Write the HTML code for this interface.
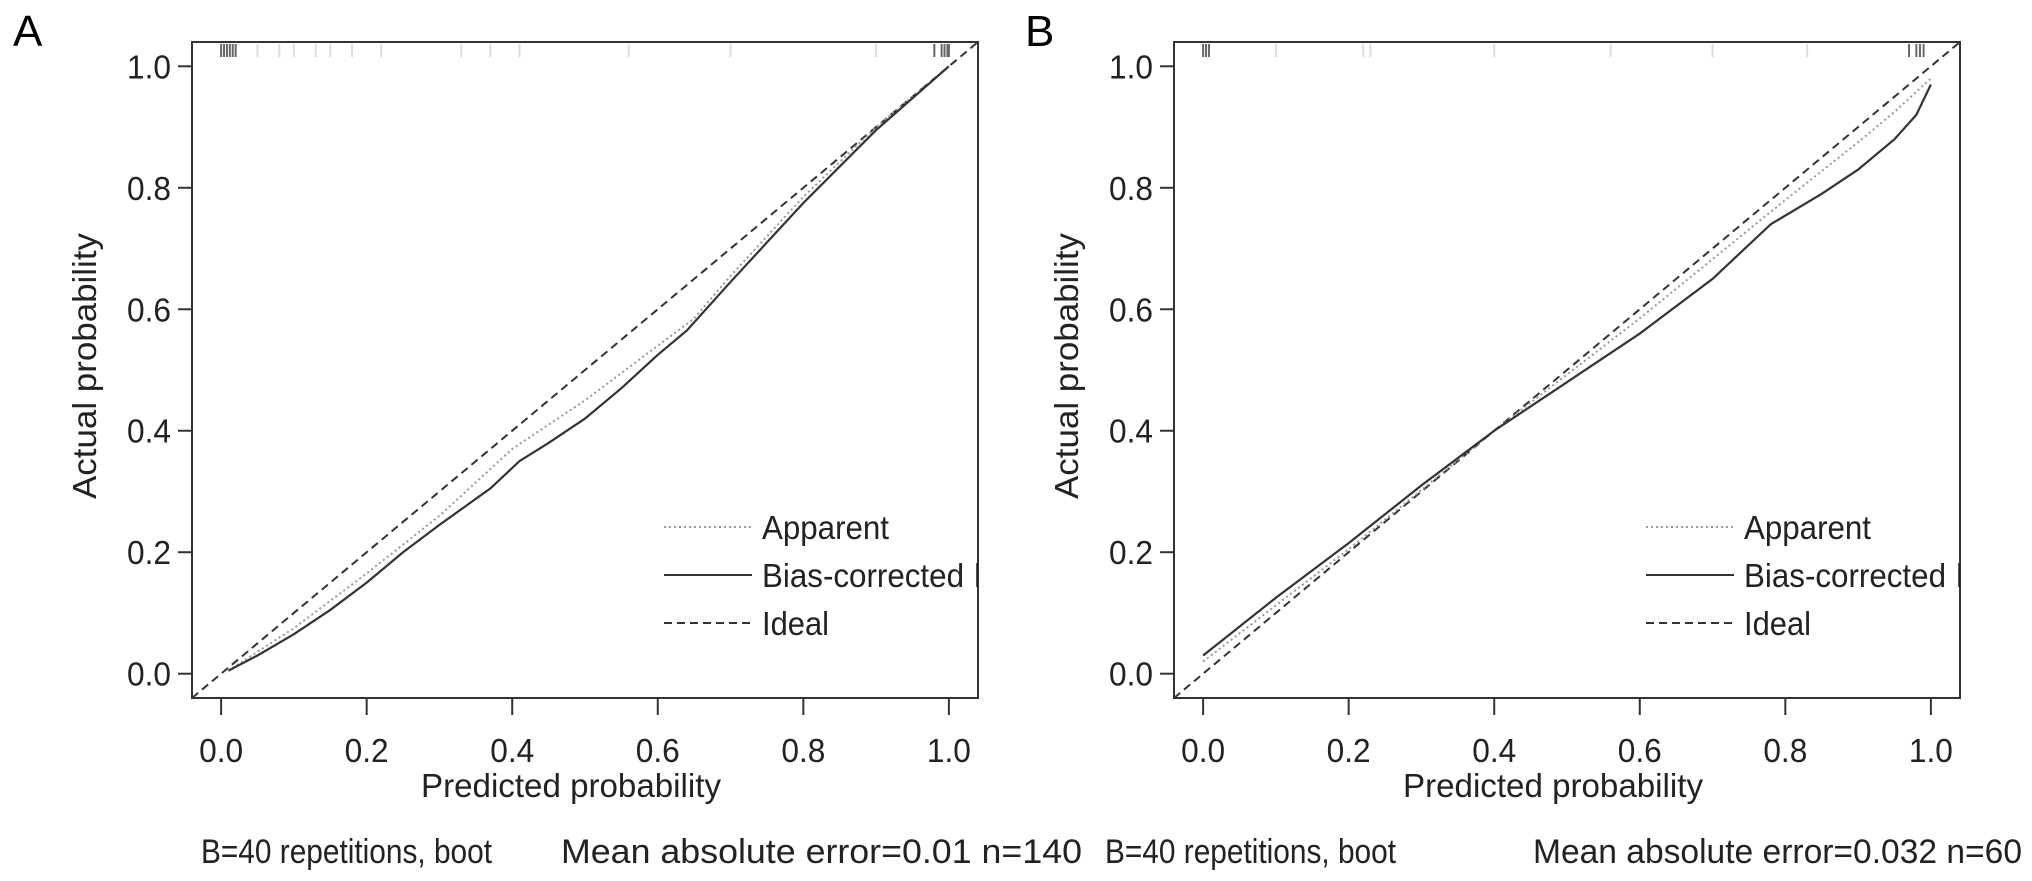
<!DOCTYPE html>
<html><head><meta charset="utf-8"><style>
html,body{margin:0;padding:0;background:#fff;}
svg{display:block;font-family:"Liberation Sans",Arial,sans-serif;}
</style></head><body>
<svg id="chart" width="2032" height="881" viewBox="0 0 2032 881" xmlns="http://www.w3.org/2000/svg"></svg>
<script>
// ---- data ----
const ticks = [0, 0.2, 0.4, 0.6, 0.8, 1.0];
const tickLabels = ["0.0","0.2","0.4","0.6","0.8","1.0"];
const aBiasX = [0.01,0.05,0.1,0.15,0.2,0.25,0.3,0.37,0.41,0.45,0.5,0.55,0.6,0.64,0.7,0.8,0.9,1.0];
const aBiasY = [0.005,0.03,0.065,0.105,0.15,0.2,0.245,0.305,0.35,0.38,0.42,0.47,0.525,0.565,0.645,0.775,0.895,1.0];
const aAppX = [0.01,0.1,0.2,0.3,0.4,0.5,0.6,0.65,0.7,0.8,0.9,1.0];
const aAppY = [0.005,0.075,0.165,0.26,0.37,0.45,0.54,0.585,0.655,0.785,0.9,1.0];
const bBiasX = [0.0,0.1,0.2,0.3,0.4,0.5,0.6,0.7,0.78,0.85,0.9,0.95,0.98,1.0];
const bBiasY = [0.03,0.125,0.215,0.31,0.4,0.48,0.56,0.65,0.74,0.79,0.83,0.88,0.92,0.97];
const bAppX = [0.0,0.2,0.4,0.6,0.8,0.9,0.95,1.0];
const bAppY = [0.02,0.205,0.4,0.585,0.78,0.875,0.925,0.98];
const aRug = [0.0,0.004,0.008,0.012,0.016,0.02,0.05,0.08,0.1,0.13,0.15,0.18,0.22,0.33,0.37,0.41,0.56,0.7,0.9,0.98,0.99,0.994,0.998,1.0];
const bRug = [0.0,0.004,0.008,0.1,0.22,0.23,0.4,0.56,0.7,0.83,0.97,0.98,0.985,0.99];
const captionsA = ["B=40 repetitions, boot","Mean absolute error=0.01 n=140"];
const captionsB = ["B=40 repetitions, boot","Mean absolute error=0.032 n=60"];

const NS="http://www.w3.org/2000/svg";
const svg=document.getElementById('chart');
function mk(tag,attrs,parent){const e=document.createElementNS(NS,tag);for(const k in attrs)e.setAttribute(k,attrs[k]);(parent||svg).appendChild(e);return e;}

function panel(id,left,letter,letterX,biasX,biasY,appX,appY,rug,caps,capX){
  const right=left+786, top=42, bottom=698;
  const unitX=(right-left)/1.08, unitY=(bottom-top)/1.08;
  const sx=v=>left+(v+0.04)*unitX;
  const sy=v=>bottom-(v+0.04)*unitY;
  const g=mk('g',{});
  
  
  const clipId='clip'+id;
  const cp=mk('clipPath',{id:clipId},g); mk('rect',{x:left,y:top,width:right-left,height:bottom-top},cp);
  const lt=mk('text',{x:letterX,y:46,'font-size':44,fill:'#000'},g); lt.textContent=letter;
  
  
  const box=mk('rect',{x:left,y:top,width:right-left,height:bottom-top,fill:'none',stroke:'#333','stroke-width':2},g);
  
  
  const plot=mk('g',{'clip-path':'url(#'+clipId+')'},g);
  rug.forEach(v=>{const r=mk('line',{x1:sx(v),x2:sx(v),y1:top+2,y2:top+15,stroke:(v<0.03||v>0.96)?'#666':'#ddd','stroke-width':2},plot);
    
    });
  const id1=mk('line',{x1:sx(-0.04),y1:sy(-0.04),x2:sx(1.04),y2:sy(1.04),stroke:'#333','stroke-width':2,'stroke-dasharray':'8,5'},plot);
  
  
  const pa=mk('polyline',{points:appX.map((x,i)=>sx(x)+','+sy(appY[i])).join(' '),fill:'none',stroke:'#999','stroke-width':2,'stroke-dasharray':'2,3'},plot);
  
  
  const pb=mk('polyline',{points:biasX.map((x,i)=>sx(x)+','+sy(biasY[i])).join(' '),fill:'none',stroke:'#333','stroke-width':2.2},plot);
  
  
  ticks.forEach((v,i)=>{
    const t1=mk('line',{x1:left-14,x2:left,y1:sy(v),y2:sy(v),stroke:'#333','stroke-width':2},g);
    
    
    const l1=mk('text',{x:left-21,y:sy(v)+12,'font-size':33,'text-anchor':'end',textLength:44,lengthAdjust:'spacingAndGlyphs',fill:'#222'},g);l1.textContent=tickLabels[i];
    
    
    const t2=mk('line',{x1:sx(v),x2:sx(v),y1:bottom,y2:bottom+17,stroke:'#333','stroke-width':2},g);
    
    
    const l2=mk('text',{x:sx(v),y:762,'font-size':33,'text-anchor':'middle',textLength:44,lengthAdjust:'spacingAndGlyphs',fill:'#222'},g);l2.textContent=tickLabels[i];
    
    
  });
  const xt=mk('text',{x:(sx(0)+sx(1))/2-14,y:797,'font-size':33,'text-anchor':'middle',textLength:300,lengthAdjust:'spacingAndGlyphs',fill:'#222'},g);xt.textContent='Predicted probability';
  
  
  const cy=366, cx=left-96;
  const yt=mk('text',{x:cx,y:cy,'font-size':33,'text-anchor':'middle',textLength:266,lengthAdjust:'spacingAndGlyphs',fill:'#222',transform:'rotate(-90 '+cx+' '+cy+')'},g);yt.textContent='Actual probability';
  
  
  const lx=left+472, rows=[527,575,623];
  const lg=mk('g',{'clip-path':'url(#'+clipId+')'},g);
  
  
  const styles=[{stroke:'#999','stroke-dasharray':'2,3'},{stroke:'#333'},{stroke:'#333','stroke-dasharray':'8,5'}];
  const names=['Apparent','Bias-corrected','Ideal'];
  const lens=[127,202,67];
  rows.forEach((y,i)=>{
    const ln=mk('line',Object.assign({x1:lx,x2:lx+88,y1:y,y2:y,'stroke-width':2},styles[i]),lg);
    
    
    const tx=mk('text',{x:lx+98,y:y+12,'font-size':33,fill:'#222',textLength:lens[i],lengthAdjust:'spacingAndGlyphs'},lg);
    tx.textContent=names[i];
    
    
    if(i===1){const extra=mk('text',{x:lx+98+212,y:y+12,'font-size':33,fill:'#222'},lg);extra.textContent='line';
      
      }
  });
  const c1=mk('text',{x:capX[0],y:863,'font-size':34,fill:'#222',textLength:capX[1],lengthAdjust:'spacingAndGlyphs'},g);c1.textContent=caps[0];
  
  
  const c2=mk('text',{x:capX[2],y:863,'font-size':34,fill:'#222',textLength:capX[3],lengthAdjust:'spacingAndGlyphs'},g);c2.textContent=caps[1];
  
  
}
panel('a',192,'A',13,aBiasX,aBiasY,aAppX,aAppY,aRug,captionsA,[201,291,561,521]);
panel('b',1174,'B',1025,bBiasX,bBiasY,bAppX,bAppY,bRug,captionsB,[1105,291,1533,489]);
</script>
</body></html>
